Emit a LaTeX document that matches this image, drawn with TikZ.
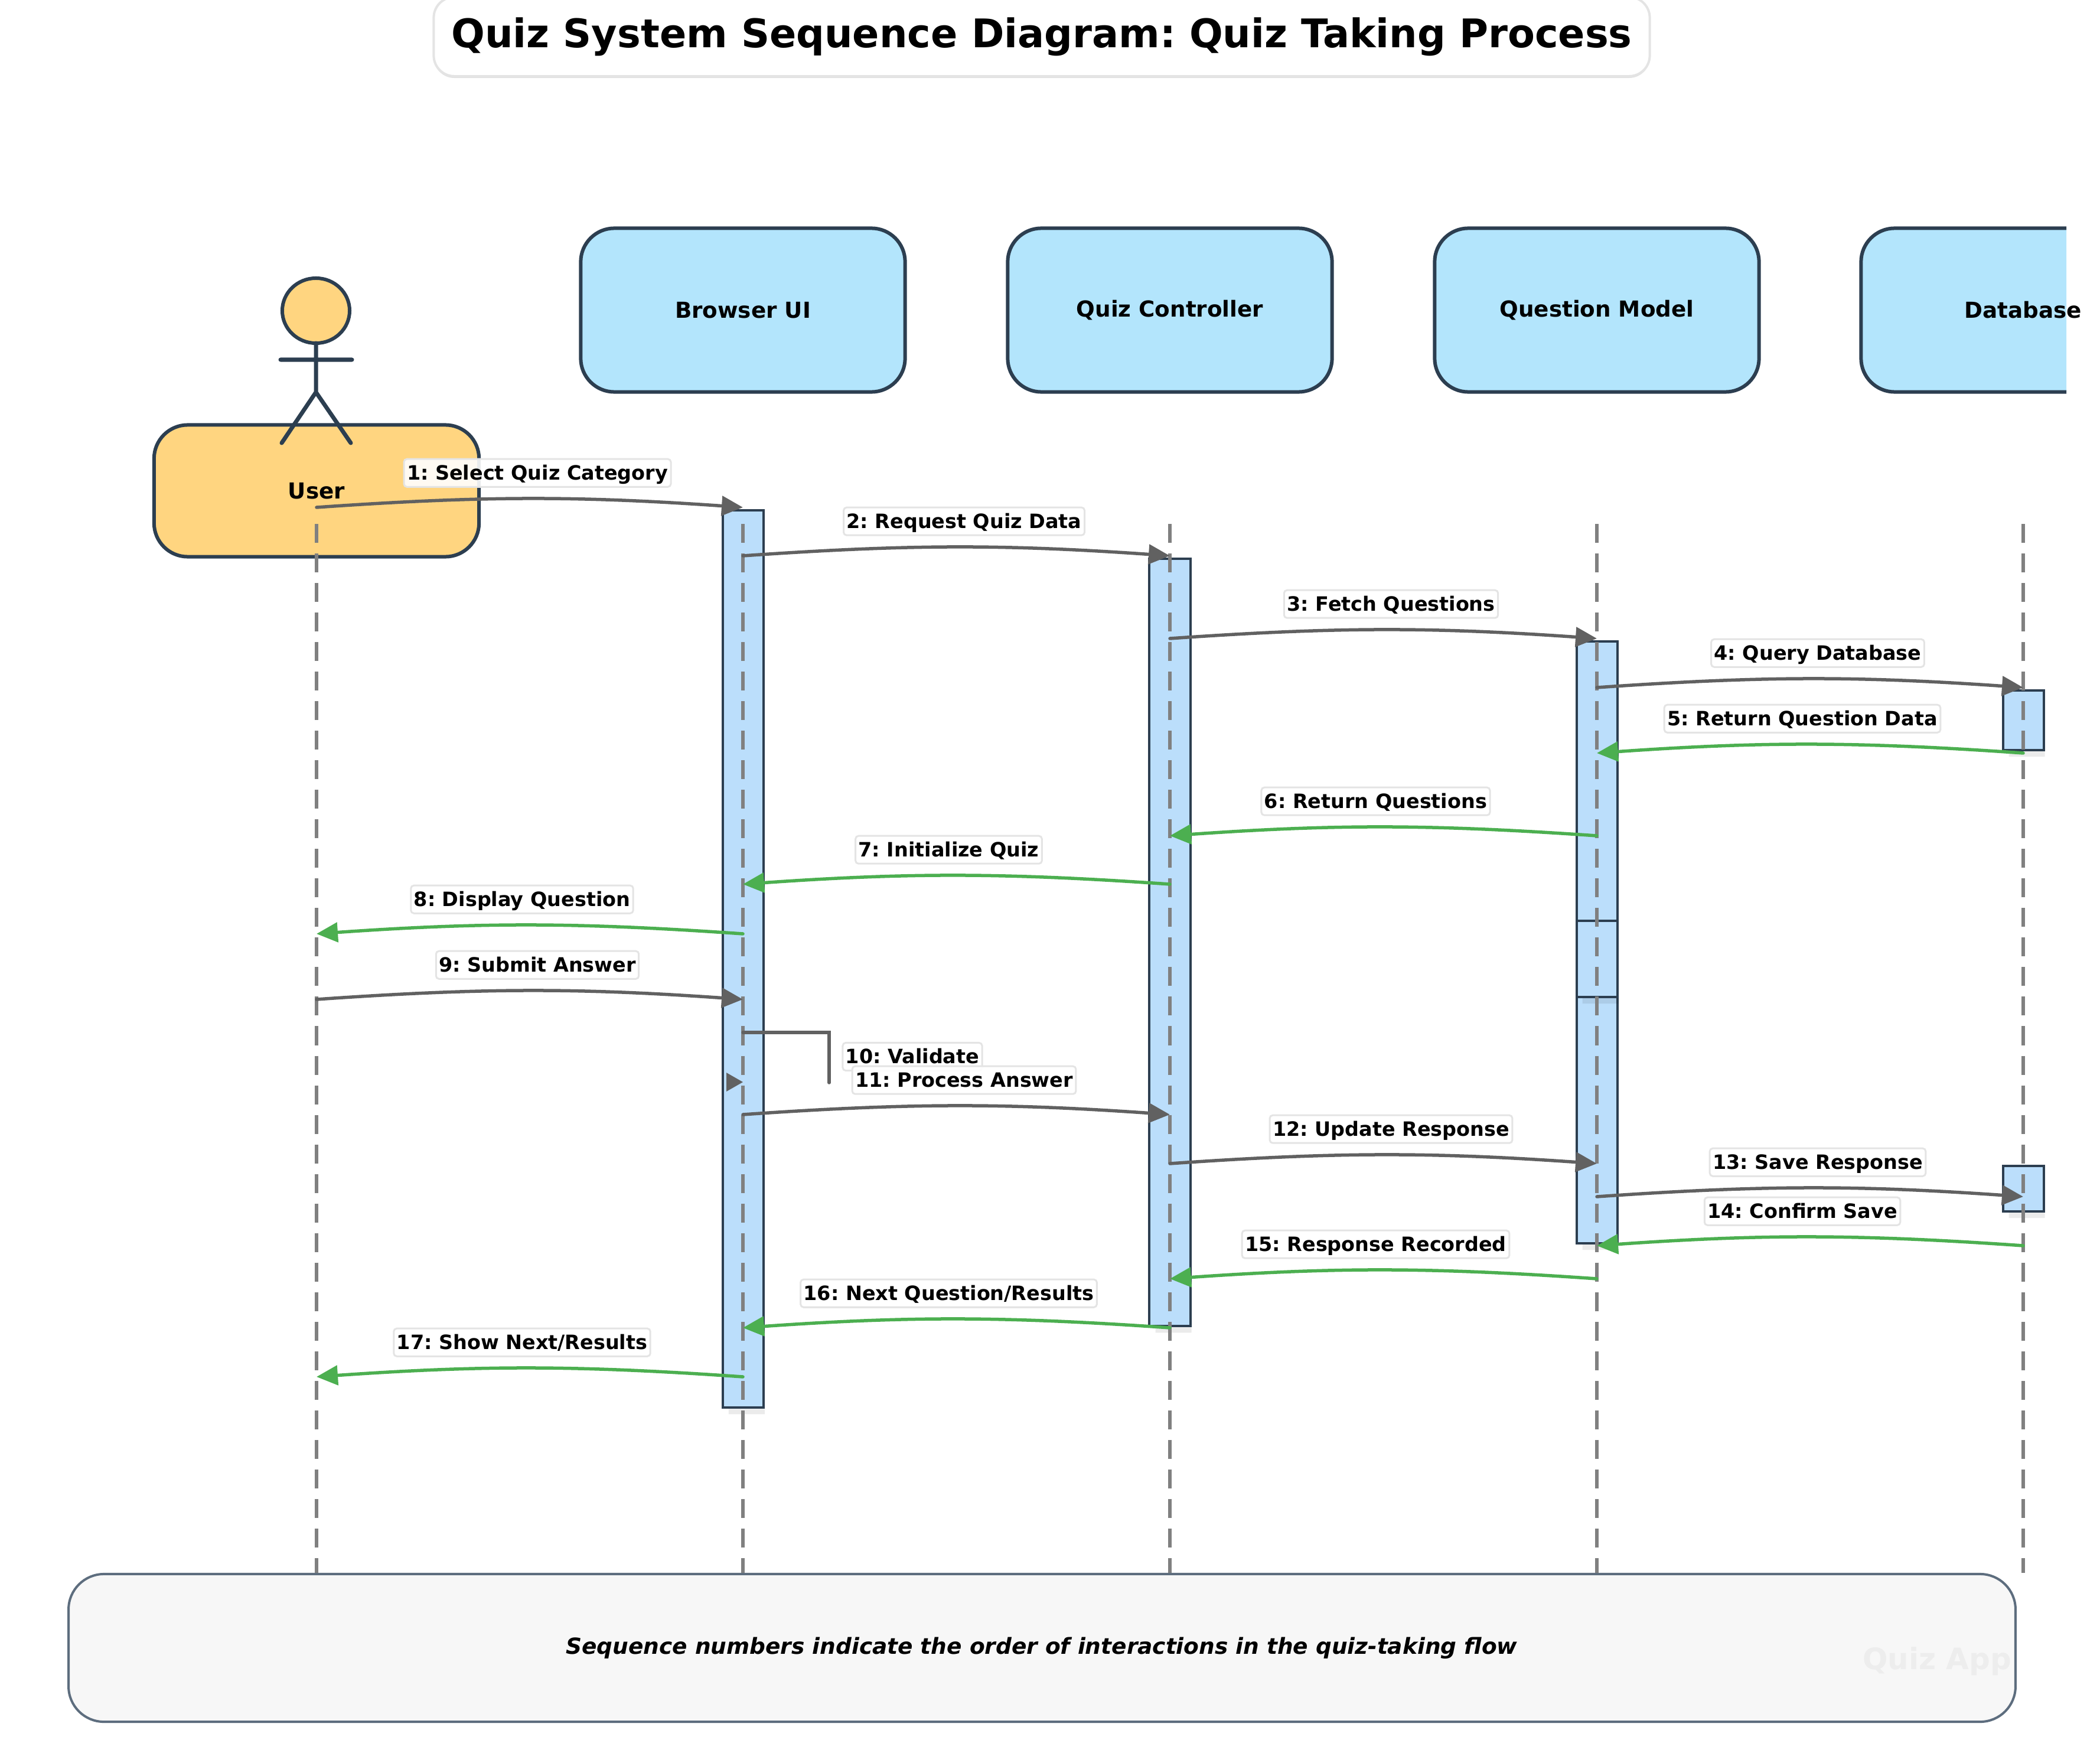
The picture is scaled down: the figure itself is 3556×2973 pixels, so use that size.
\documentclass[tikz,border=0pt]{standalone}
\usepackage{fontspec}
\setmainfont{DejaVu Sans}
\frenchspacing
\usetikzlibrary{arrows.meta,positioning,calc,shadows}
\definecolor{slate}{HTML}{2C3E50}
\definecolor{peach}{HTML}{FFD580}
\definecolor{sky}{HTML}{B3E5FC}
\definecolor{barblue}{HTML}{BBDEFB}
\definecolor{callgray}{HTML}{616161}
\definecolor{retgreen}{HTML}{4CAF50}
\definecolor{dashgray}{HTML}{808080}
\definecolor{paper}{HTML}{F7F7F7}
\definecolor{footedge}{HTML}{5D6D7E}
\definecolor{hairline}{HTML}{E4E4E4}
\tikzset{
  partbox/.style={draw=slate, line width=.06cm, rounded corners=.57cm, minimum width=5.49cm, minimum height=2.77cm, font=\bfseries\fontsize{10.6}{12}\selectfont},
  boxtext/.style={font=\bfseries\fontsize{10.6}{12}\selectfont, inner sep=0pt},
  activation/.style={draw=slate, fill=barblue, line width=.04cm, minimum width=.69cm, inner sep=0pt},
  barshade/.style={fill=black, fill opacity=.08},
  lifeline/.style={draw=dashgray, line width=.06cm, dash pattern=on .32cm off .18cm},
  lifeshade/.style={draw=black!8, line width=.05cm, dash pattern=on .32cm off .18cm},
  call/.style={draw=callgray, line width=.055cm, line cap=round, -{Triangle[length=.36cm,width=.33cm]}},
  ret/.style={draw=retgreen, line width=.055cm, line cap=round, -{Triangle[length=.36cm,width=.33cm]}},
  msgbox/.style={draw=hairline, line width=.03cm, fill=white, fill opacity=.9, text opacity=1, rounded corners=.05cm,
    inner xsep=.05cm, inner ysep=0pt, minimum height=.47cm, text height=.84em, text depth=.18em,
    font=\bfseries\fontsize{9.5}{11}\selectfont},
  calllabel/.style={msgbox, xshift=.13cm, yshift=.435cm},
  retlabel/.style={msgbox, xshift=-.13cm, yshift=.435cm},
  actorline/.style={draw=slate, line width=.07cm, line cap=round}
}
\begin{document}
\begin{tikzpicture}[x=.01cm, y=-.01cm]
  \useasboundingbox (0,0) rectangle (3556,2973);

  \node[draw=hairline, fill=white, line width=.04cm, rounded corners=.35cm, minimum width=20.58cm, minimum height=1.34cm,
        drop shadow={shadow xshift=0pt, shadow yshift=-.03cm, fill=black, opacity=.12},
        font=\bfseries\fontsize{19}{22}\selectfont] (title) at (1764,62) {Quiz System Sequence Diagram: Quiz Taking Process};

  \node[partbox, fill=peach, minimum height=2.23cm, minimum width=5.5cm] (user) at (536,831) {User};
  \node[partbox, fill=sky] (browser) at (1258,525) {Browser UI};
  \node[partbox, fill=sky] (controller) at (1981,525) {Quiz Controller};
  \node[partbox, fill=sky] (question) at (2704,525) {Question Model};
  \begin{scope}
    \clip (3100,300) rectangle (3499,800);
    \node[partbox, fill=sky] (dbbox) at (3426,525) {};
  \end{scope}
  \node[boxtext] (db) at (dbbox) {Database};

  \draw[draw=slate, line width=.06cm, fill=peach] (535,526) ellipse (.57cm and .55cm);
  \draw[actorline] (535,581) -- (535,664) (475,609) -- (596,609) (477,750) -- (535,664) -- (594,750);

  \node[draw=footedge, fill=paper, line width=.04cm, rounded corners=.6cm, minimum width=32.95cm, minimum height=2.5cm] (footer) at (1764.5,2790) {};
  \node[font=\bfseries\itshape\fontsize{10.66}{12}\selectfont, inner sep=0pt] (note) at (1764,2790) {Sequence numbers indicate the order of interactions in the quiz-taking flow};
  \node[font=\bfseries\fontsize{14.2}{16}\selectfont, text=black!7, inner sep=0pt] (brand) at (3280,2813) {Quiz App};

  \node[activation, minimum height=15.19cm] (barbrowser) at (1258.5,1623.5) {};
  \node[activation, minimum height=12.99cm] (barcontroller) at (1981,1595.5) {};
  \node[activation, minimum height=4.73cm] (barquestiona) at (2704,1322.5) {};
  \node[activation, minimum height=4.17cm] (barquestionc) at (2704,1896.5) {};
  \node[activation, minimum height=1.29cm] (barquestionb) at (2704,1623.5) {};
  \node[activation, minimum height=1.01cm] (bardba) at (3426,1219.5) {};
  \node[activation, minimum height=.77cm] (bardbb) at (3426,2012.5) {};
  \fill[barshade] ([xshift=.12cm]barbrowser.south west) rectangle ([yshift=-.09cm]barbrowser.south east)
                  ([xshift=.12cm]barcontroller.south west) rectangle ([yshift=-.09cm]barcontroller.south east)
                  ([xshift=.12cm]barquestionb.south west) rectangle ([yshift=-.09cm]barquestionb.south east)
                  ([xshift=.12cm]barquestionc.south west) rectangle ([yshift=-.09cm]barquestionc.south east)
                  ([xshift=.12cm]bardba.south west) rectangle ([yshift=-.09cm]bardba.south east)
                  ([xshift=.12cm]bardbb.south west) rectangle ([yshift=-.09cm]bardbb.south east);

  \coordinate (userline) at (536,887);
  \coordinate (browserline) at (1258,887);
  \coordinate (controllerline) at (1981,887);
  \coordinate (questionline) at (2704,887);
  \coordinate (dbline) at (3426,887);
  \begin{scope}[shift={(5,5)}]
    \draw[lifeshade] (userline) -- (userline |- footer.north);
    \draw[lifeshade] (browserline) -- (browserline |- footer.north);
    \draw[lifeshade] (controllerline) -- (controllerline |- footer.north);
    \draw[lifeshade] (questionline) -- (questionline |- footer.north);
    \draw[lifeshade] (dbline) -- (dbline |- footer.north);
  \end{scope}
  \draw[lifeline] (userline) -- (userline |- footer.north);
  \draw[lifeline] (browserline) -- (browserline |- footer.north);
  \draw[lifeline] (controllerline) -- (controllerline |- footer.north);
  \draw[lifeline] (questionline) -- (questionline |- footer.north);
  \draw[lifeline] (dbline) -- (dbline |- footer.north);

  \draw[call] (userline |- 0,859) to[bend left=4] node[calllabel] (msga) {1: Select Quiz Category} (browserline |- 0,859);
  \draw[call] (browserline |- 0,941) to[bend left=4] node[calllabel] (msgb) {2: Request Quiz Data} (controllerline |- 0,941);
  \draw[call] (controllerline |- 0,1081) to[bend left=4] node[calllabel] (msgc) {3: Fetch Questions} (questionline |- 0,1081);
  \draw[call] (questionline |- 0,1164) to[bend left=4] node[calllabel] (msgd) {4: Query Database} (dbline |- 0,1164);
  \draw[ret] (dbline |- 0,1275) to[bend right=4] node[retlabel] (msge) {5: Return Question Data} (questionline |- 0,1275);
  \draw[ret] (questionline |- 0,1415) to[bend right=4] node[retlabel] (msgf) {6: Return Questions} (controllerline |- 0,1415);
  \draw[ret] (controllerline |- 0,1497) to[bend right=4] node[retlabel] (msgg) {7: Initialize Quiz} (browserline |- 0,1497);
  \draw[ret] (browserline |- 0,1581) to[bend right=4] node[retlabel] (msgh) {8: Display Question} (userline |- 0,1581);
  \draw[call] (userline |- 0,1692) to[bend left=4] node[calllabel] (msgi) {9: Submit Answer} (browserline |- 0,1692);

  \coordinate (selfa) at (browserline |- 0,1748);
  \coordinate (selfb) at (1404,1833);
  \draw[draw=callgray, line width=.055cm, line cap=round] (selfa) -| (selfb);
  \fill[callgray] ($(browserline |- 0,1832)+(-28,-16)$) -- (browserline |- 0,1832) -- ($(browserline |- 0,1832)+(-28,16)$) -- cycle;
  \node[msgbox] (msgj) at (1545,1789) {10: Validate};

  \draw[call] (browserline |- 0,1887) to[bend left=4] node[calllabel] (msgk) {11: Process Answer} (controllerline |- 0,1887);
  \draw[call] (controllerline |- 0,1970) to[bend left=4] node[calllabel] (msgl) {12: Update Response} (questionline |- 0,1970);
  \draw[call] (questionline |- 0,2026) to[bend left=4] node[calllabel] (msgm) {13: Save Response} (dbline |- 0,2026);
  \draw[ret] (dbline |- 0,2109) to[bend right=4] node[retlabel] (msgn) {14: Confirm Save} (questionline |- 0,2109);
  \draw[ret] (questionline |- 0,2165) to[bend right=4] node[retlabel] (msgo) {15: Response Recorded} (controllerline |- 0,2165);
  \draw[ret] (controllerline |- 0,2248) to[bend right=4] node[retlabel] (msgp) {16: Next Question/Results} (browserline |- 0,2248);
  \draw[ret] (browserline |- 0,2331) to[bend right=4] node[retlabel] (msgq) {17: Show Next/Results} (userline |- 0,2331);
\end{tikzpicture}
\end{document}
